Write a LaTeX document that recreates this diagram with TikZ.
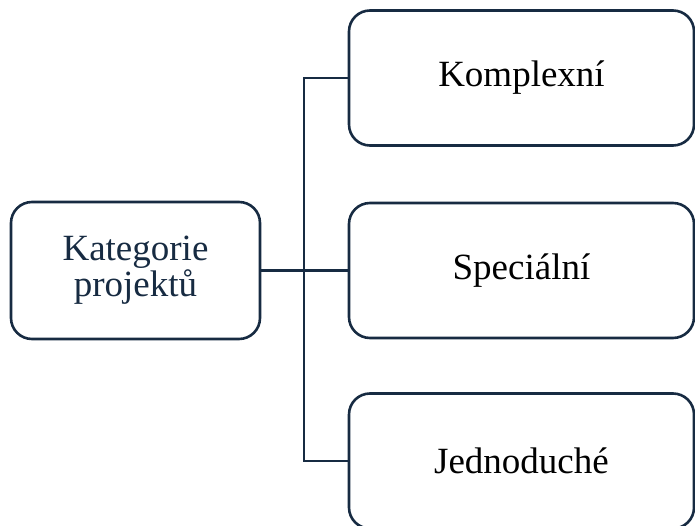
\documentclass[tikz,border=0pt]{standalone}
\usepackage{fontspec}
\setmainfont{Liberation Serif}
\usetikzlibrary{positioning}
\definecolor{navy}{HTML}{172B42}

\begin{document}
\begin{tikzpicture}[x=1pt,y=-1pt,thick]
\tikzstyle{every node}=[font=\fontsize{37}{36}\selectfont]
\tikzstyle{catbox}=[shape=rectangle,draw=navy,line width=2.6pt,rounded corners=21pt,text=navy,minimum width=249pt,minimum height=137pt,align=center]
\tikzstyle{subbox}=[catbox,text=black,minimum width=345pt,minimum height=135pt]
\tikzstyle{branch}=[draw=navy,line width=2.6pt]

\useasboundingbox (0,0) rectangle (695,526);
\clip (0,0) rectangle (695,526);

\node[catbox]  (cat) at (135.5,270.5) {Kategorie\\projektů};
\node[subbox]  (kom) at (521.5,78)    {Komplexní};
\node[subbox]  (spe) at (521.5,270.5) {Speciální};
\node[subbox]  (jed) at (521.5,461)   {Jednoduché};
\coordinate    (J)   at (304,270.5);

\path[branch]
(cat.east) edge (J)
(J) edge (spe.west)
;
\draw[branch] (J) |- (kom.west);
\draw[branch] (J) |- (jed.west);
\end{tikzpicture}
\end{document}
